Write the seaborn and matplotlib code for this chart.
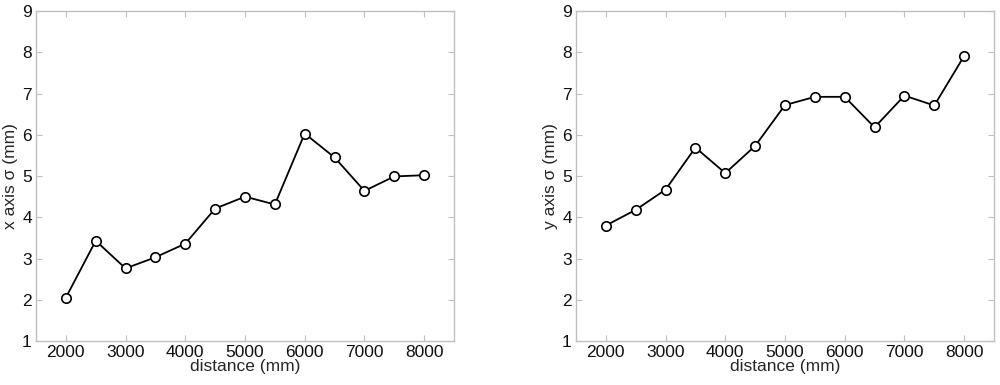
import matplotlib
matplotlib.use('Agg')
import matplotlib.pyplot as plt
import numpy as np
import pandas as pd
import seaborn as sns

distance = [2000, 2500, 3000, 3500, 4000, 4500, 5000, 5500, 6000, 6500, 7000, 7500, 8000]
x_sigma = [2.05, 3.43, 2.76, 3.03, 3.36, 4.21, 4.50, 4.31, 6.03, 5.45, 4.64, 4.99, 5.02]
y_sigma = [3.80, 4.18, 4.67, 5.69, 5.07, 5.73, 6.72, 6.92, 6.92, 6.18, 6.95, 6.71, 7.91]

df = pd.DataFrame({'distance': distance, 'x': x_sigma, 'y': y_sigma})

sns.set_style('white')
plt.rcParams['font.family'] = ['Liberation Sans', 'DejaVu Sans']

fig = plt.figure(figsize=(10, 3.85), dpi=100)
ax_left = fig.add_axes([0.036, 0.1143, 0.418, 0.857])
ax_right = fig.add_axes([0.576, 0.1143, 0.418, 0.857])

fsize = 12.5
for ax, col, lab in [(ax_left, 'x', 'x axis σ (mm)'), (ax_right, 'y', 'y axis σ (mm)')]:
    sns.lineplot(data=df, x='distance', y=col, ax=ax, color='black', linewidth=1.3,
                 marker='o', markersize=6.8, markerfacecolor='white',
                 markeredgecolor='black', markeredgewidth=1.2)
    ax.set_xlim(1500, 8500)
    ax.set_ylim(1, 9)
    ax.set_xticks(range(2000, 8001, 1000))
    ax.set_yticks(range(1, 10))
    ax.set_xlabel('distance (mm)', fontsize=fsize, labelpad=-1)
    ax.set_ylabel(lab, fontsize=fsize, labelpad=3)
    ax.tick_params(direction='in', length=4, color='#c0c0c0', labelsize=fsize,
                   top=True, right=True, bottom=True, left=True, pad=3, labelcolor='#111111')
    for s in ax.spines.values():
        s.set_color('#c0c0c0')
        s.set_linewidth(1.0)

plt.savefig('out.png', dpi=100)
